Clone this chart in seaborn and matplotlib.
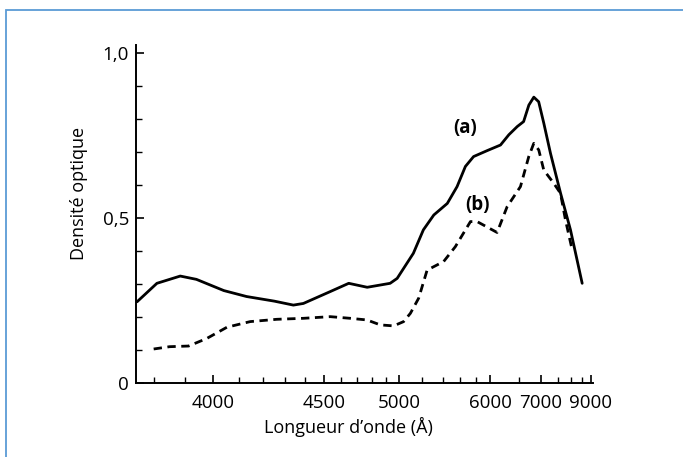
import numpy as np
import pandas as pd
import matplotlib
matplotlib.use("Agg")
import matplotlib.pyplot as plt
from matplotlib.patches import Rectangle
import seaborn as sns

# courbe (a) : trait plein
lam_a = [3750, 3810, 3885, 3940, 4040, 4130, 4250, 4340, 4390, 4535, 4645, 4765,
         4930, 4985, 5120, 5210, 5310, 5450, 5560, 5660, 5765, 5955, 6165, 6310,
         6470, 6600, 6715, 6830, 6950, 7085, 7275, 7600, 7975, 8515]
dens_a = [0.246, 0.302, 0.324, 0.314, 0.280, 0.262, 0.248, 0.236, 0.241, 0.277, 0.302, 0.290,
          0.302, 0.317, 0.393, 0.464, 0.509, 0.544, 0.595, 0.656, 0.686, 0.704, 0.721, 0.752,
          0.777, 0.792, 0.842, 0.866, 0.852, 0.787, 0.696, 0.575, 0.464, 0.302]

# courbe (b) : pointillés
lam_b = [3800, 3850, 3913, 3977, 4052, 4145, 4262, 4391, 4535, 4654, 4763, 4857,
         4957, 5037, 5094, 5167, 5245, 5411, 5540, 5724, 5812, 6109, 6279, 6534,
         6713, 6829, 6952, 7084, 7376, 7596, 7778, 8047]
dens_b = [0.103, 0.110, 0.112, 0.135, 0.169, 0.186, 0.193, 0.196, 0.201, 0.196, 0.191, 0.176,
          0.173, 0.186, 0.211, 0.257, 0.342, 0.368, 0.413, 0.489, 0.489, 0.456, 0.534, 0.595,
          0.686, 0.726, 0.706, 0.645, 0.605, 0.575, 0.494, 0.403]

x_ticks = [4000, 4500, 5000, 6000, 7000, 9000]
x_minor = [3800, 3900, 4100, 4200, 4300, 4400, 4600, 4700, 4800, 4900,
           5200, 5400, 5600, 5800, 6500, 7500, 8000, 8500]
y_ticks = [0, 0.5, 1.0]
y_labels = ["0", "0,5", "1,0"]

df_a = pd.DataFrame({"lam": lam_a, "d": dens_a})
df_b = pd.DataFrame({"lam": lam_b, "d": dens_b})

sns.set_style("ticks")
plt.rcParams['font.family'] = ['Open Sans', 'DejaVu Sans']
plt.rcParams['text.color'] = 'black'
plt.rcParams['axes.labelcolor'] = 'black'
plt.rcParams['xtick.color'] = 'black'
plt.rcParams['ytick.color'] = 'black'
plt.rcParams['axes.edgecolor'] = 'black'

fig = plt.figure(figsize=(6.83, 4.57), dpi=100)
# cadre bleu
fig.patches.append(Rectangle((6/683, -0.1), 1.2, 1 - 10/457 + 0.1, transform=fig.transFigure,
                             fill=False, edgecolor="#5b9bd5", lw=1.3))
ax = fig.add_axes([136/683, 1 - 383/457, (593 - 136)/683, (383 - 45)/457])

sns.lineplot(data=df_a, x="lam", y="d", ax=ax, color="black", lw=2.0, sort=False)
sns.lineplot(data=df_b, x="lam", y="d", ax=ax, color="black", lw=2.0, sort=False,
             linestyle=(0, (3, 2)))


def fwd(x):
    with np.errstate(divide="ignore", invalid="ignore"):
        return -np.power(np.asarray(x, float) / 1000.0, -2.5)


def inv(y):
    with np.errstate(divide="ignore", invalid="ignore"):
        return 1000.0 * np.power(-np.asarray(y, float), -0.4)


ax.set_xscale("function", functions=(fwd, inv))
ax.set_xlim(3747, 9150)
ax.set_ylim(0, 1.024)

ax.set_xticks(x_ticks)
ax.set_xticklabels([str(t) for t in x_ticks])
ax.set_xticks(x_minor, minor=True)
ax.set_xticklabels([], minor=True)
ax.set_yticks(y_ticks)
ax.set_yticklabels(y_labels)
ax.set_yticks(np.arange(0.1, 1.0, 0.1), minor=True)

ax.tick_params(axis="both", which="major", direction="in", length=6, width=1.2,
               labelsize=13.5)
ax.tick_params(axis="x", which="major", pad=8)
ax.tick_params(axis="y", which="major", pad=5)
ax.tick_params(axis="both", which="minor", direction="in", length=4, width=1.0)
for s in ["top", "right"]:
    ax.spines[s].set_visible(False)
for s in ["left", "bottom"]:
    ax.spines[s].set_linewidth(1.4)

ax.set_xlabel("Longueur d’onde (Å)", fontsize=13)
ax.set_ylabel("Densité optique", fontsize=13)
ax.xaxis.set_label_coords(0.464, -0.10)
ax.yaxis.set_label_coords(-0.105, 0.56)

ax.text(5660, 0.773, "(a)", fontsize=13.5, fontweight="bold", ha="center", va="center")
ax.text(5812, 0.540, "(b)", fontsize=13.5, fontweight="bold", ha="center", va="center")

fig.savefig("out.png", dpi=100)
